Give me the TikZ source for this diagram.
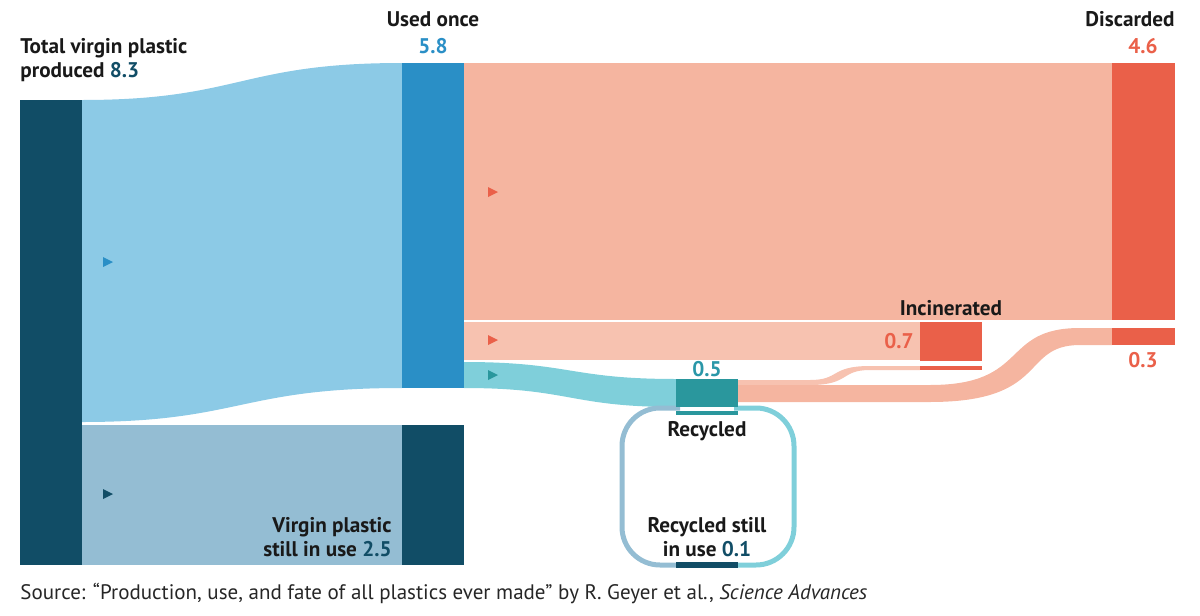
\documentclass[tikz,border=0pt]{standalone}
\usepackage{fontspec}
\setmainfont{PT Sans}
\definecolor{dnavy}{HTML}{114D66}
\definecolor{lblue}{HTML}{8CCAE6}
\definecolor{gblue}{HTML}{94BDD3}
\definecolor{mblue}{HTML}{2A8FC6}
\definecolor{salm}{HTML}{F5B5A0}
\definecolor{salm2}{HTML}{F7C2B0}
\definecolor{red1}{HTML}{EA6049}
\definecolor{teal1}{HTML}{7FCFDA}
\definecolor{teal2}{HTML}{2A979D}
\definecolor{tealtxt}{HTML}{2A97A8}
\begin{document}
\begin{tikzpicture}[x=0.5pt,y=-0.5pt,
  lab/.style={font=\fontsize{10.6}{12}\selectfont\bfseries,text=black!90,inner sep=0pt}]
\useasboundingbox (0,0) rectangle (1200,616);
% flows
\fill[lblue] (82,100) .. controls (240,100) and (240,63) .. (402,63) -- (402,388) .. controls (240,388) and (240,422) .. (82,422) -- cycle;
\fill[gblue] (82,425) rectangle (402,565);
\fill[salm] (464,63) rectangle (1112,320);
\fill[salm2] (464,322) rectangle (920,360);
\fill[teal1] (464,362) .. controls (570,362) and (570,379) .. (676,379) -- (676,407) .. controls (570,407) and (570,388) .. (464,388) -- cycle;
\fill[salm2] (738,380) -- (810,380) .. controls (840,380) and (830,366) .. (870,366) -- (920,366) -- (920,370) -- (870,370) .. controls (840,370) and (850,385) .. (810,385) -- (738,385) -- cycle;
\fill[salm] (738,385) -- (930,385) .. controls (1030,385) and (1000,328) .. (1080,328) -- (1112,328) -- (1112,345) -- (1080,345) .. controls (1020,345) and (1050,402) .. (930,402) -- (738,402) -- cycle;
% loop
\draw[gblue,line width=2.5pt] (680,565) -- (660,565) arc[start angle=90,end angle=180,radius=38] -- (622,446) arc[start angle=180,end angle=270,radius=38] -- (680,408);
\draw[teal1,line width=2.5pt] (734,565) -- (756,565) arc[start angle=90,end angle=0,radius=38] -- (794,446) arc[start angle=0,end angle=-90,radius=38] -- (734,408);
% bars
\fill[dnavy] (20,100) rectangle (82,565);
\fill[mblue] (402,63) rectangle (464,388);
\fill[dnavy] (402,425) rectangle (464,565);
\fill[red1] (1112,63) rectangle (1175,320);
\fill[red1] (1112,328) rectangle (1175,345);
\fill[red1] (920,322) rectangle (982,361);
\fill[red1] (920,366) rectangle (982,370);
\fill[teal2] (676,379) rectangle (738,407);
\fill[teal2] (676,411) rectangle (738,415);
\fill[dnavy] (676,562) rectangle (738,568);
% arrows
\fill[mblue] (103,257) -- (113,262) -- (103,267) -- cycle;
\fill[dnavy] (103,489) -- (113,494) -- (103,499) -- cycle;
\fill[red1] (488,187) -- (498,192) -- (488,197) -- cycle;
\fill[red1] (488,335) -- (498,340) -- (488,345) -- cycle;
\fill[teal2] (488,370) -- (498,375) -- (488,380) -- cycle;
% labels
\node[lab,anchor=north west,align=left] (tvp) at (20,38) {Total virgin plastic\\produced \textcolor{dnavy}{8.3}};
\node[lab,anchor=north] (uo) at (433,11) {Used once};
\node[lab,anchor=north,text=mblue] (uov) at (433,38) {5.8};
\node[lab,anchor=north east] (dis) at (1175,11) {Discarded};
\node[lab,anchor=north,text=red1] (disv) at (1143,38) {4.6};
\node[lab,anchor=south] (inc) at (951,316) {Incinerated};
\node[lab,anchor=east,text=red1] (incv) at (914,341) {0.7};
\node[lab,anchor=north,text=red1] (d3) at (1143,352) {0.3};
\node[lab,anchor=south,text=tealtxt] (rv) at (707,377) {0.5};
\node[lab,anchor=north] (rec) at (707,421) {Recycled};
\node[lab,anchor=south,align=center] (rsu) at (707,557) {Recycled still\\in use \textcolor{dnavy}{0.1}};
\node[lab,anchor=south east,align=right] (vpu) at (392,557) {Virgin plastic\\still in use \textcolor{dnavy}{2.5}};
\node[font=\fontsize{10.5}{12}\selectfont,anchor=west,inner sep=0pt,text=black!85] (src) at (20,593) {Source: “Production, use, and fate of all plastics ever made” by R. Geyer et al., \textit{Science Advances}};
\end{tikzpicture}
\end{document}
